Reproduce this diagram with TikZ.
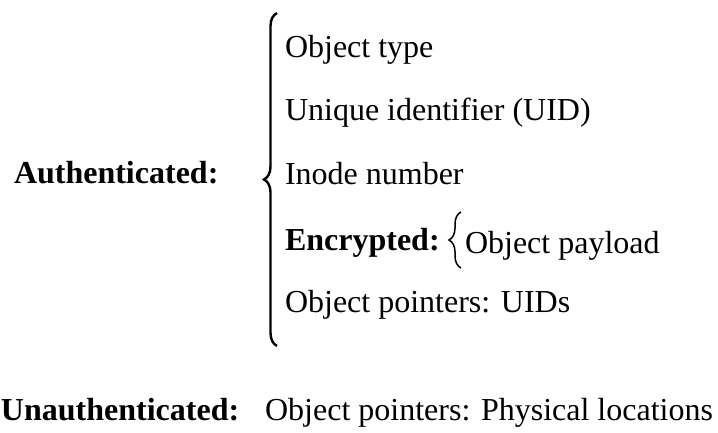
\documentclass[tikz,border=0pt]{standalone}
\usepackage{fontspec}
\setmainfont{Liberation Serif}
\usetikzlibrary{decorations.pathreplacing}
\tikzset{
  txt/.style={inner sep=0pt, outer sep=0pt, font=\fontsize{32}{38}\selectfont},
  bigbrace/.style={decorate, decoration={brace, amplitude=13pt, aspect=0.5}, line width=2.4pt},
  smallbrace/.style={decorate, decoration={brace, amplitude=12pt, aspect=0.5}, line width=1.5pt}
}
\begin{document}
\begin{tikzpicture}[x=1pt,y=-1pt]
\useasboundingbox (0,0) rectangle (718,432);
\node[txt, anchor=base west] (auth) at (14,183) {\textbf{Authenticated:}};
\coordinate (bbtop) at (277,13);
\coordinate (bbbot) at (277,346);
\draw[bigbrace] (bbbot) -- (bbtop);
\node[txt, anchor=base west] (type) at (285,57) {Object type};
\node[txt, anchor=base west] (uid) at (285,120) {Unique identifier (UID)};
\node[txt, anchor=base west] (inode) at (285,184) {Inode number};
\node[txt, anchor=base west] (enc) at (285,250) {\textbf{Encrypted:}};
\coordinate (sbtop) at (461,212);
\coordinate (sbbot) at (461,268);
\draw[smallbrace] (sbbot) -- (sbtop);
\node[txt, anchor=base west] (payload) at (465,253) {Object payload};
\node[txt, anchor=base west] (ptr) at (285,312) {Object pointers: UIDs};
\node[txt, anchor=base west] (unauth) at (1,420) {\textbf{Unauthenticated:}};
\node[txt, anchor=base east] (phys) at (713,420) {Object pointers: Physical locations};
\end{tikzpicture}
\end{document}
